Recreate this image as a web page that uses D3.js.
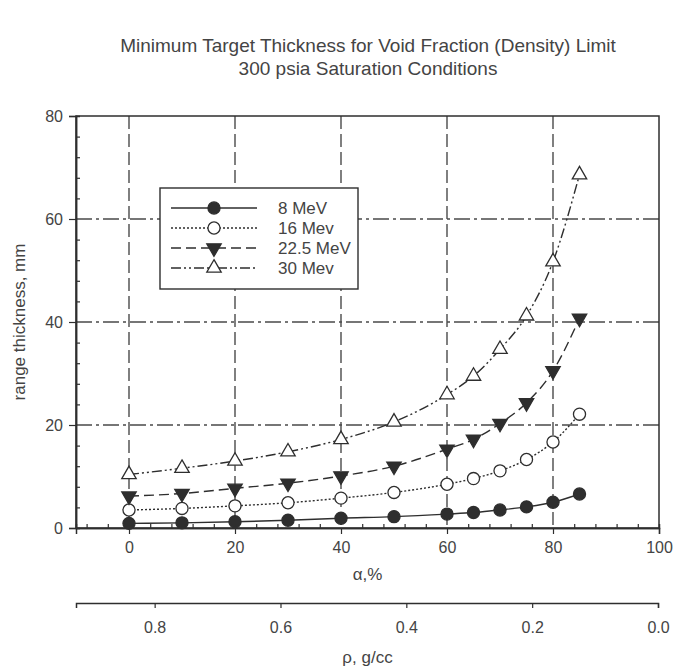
<!DOCTYPE html>
<html>
<head>
<meta charset="UTF-8">
<title>Minimum Target Thickness</title>
<style>
  body { margin: 0; background: #fff; }
  svg { font-family: "Liberation Sans", Arial, sans-serif; }
</style>
</head>
<body>
<svg id="chart"></svg>
<script src="https://cdn.jsdelivr.net/npm/d3@7"></script>
<script>
// void fraction, %
var alpha = [0, 10, 20, 30, 40, 50, 60, 65, 70, 75, 80, 85];
// range thickness, mm
var mev8  = [0.9, 1.0, 1.2, 1.5, 1.9, 2.2, 2.7, 3.0, 3.5, 4.1, 5.0, 6.6];
var mev16 = [3.5, 3.8, 4.3, 4.9, 5.8, 6.9, 8.5, 9.6, 11.1, 13.3, 16.7, 22.1];
var mev22 = [6.2, 6.7, 7.7, 8.7, 10.1, 12.0, 15.3, 17.2, 20.3, 24.3, 30.5, 40.7];
var mev30 = [10.4, 11.6, 13.0, 14.8, 17.2, 20.6, 25.9, 29.5, 34.7, 41.2, 51.7, 68.6];
var seriesNames = ["8 MeV", "16 Mev", "22.5 MeV", "30 Mev"];
var xTicks = [0, 20, 40, 60, 80, 100];
var yTicks = [0, 20, 40, 60, 80];
var rhoTicks = [0.8, 0.6, 0.4, 0.2, 0.0];

var W = 674, H = 671;
var svg = d3.select("#chart").attr("width", W).attr("height", H);

var pLeft = 76, pRight = 659, pTop = 116, pBottom = 528;
var x = d3.scaleLinear().domain([-10, 100]).range([pLeft, pRight]);
var y = d3.scaleLinear().domain([0, 80]).range([pBottom, pTop]);
var rho = d3.scaleLinear().domain([0.925, 0]).range([pLeft, 658]);

var ink = "#2e2e2e";
var txt = "#444";

// title
svg.append("text").attr("x", 368).attr("y", 52).attr("text-anchor", "middle")
  .attr("font-size", 19).attr("fill", txt)
  .text("Minimum Target Thickness for Void Fraction (Density) Limit");
svg.append("text").attr("x", 368).attr("y", 75).attr("text-anchor", "middle")
  .attr("font-size", 19).attr("fill", txt)
  .text("300 psia Saturation Conditions");

// grid
var g = svg.append("g");
g.selectAll(".vg").data([0, 20, 40, 60, 80]).enter().append("line")
  .attr("x1", d => x(d)).attr("x2", d => x(d))
  .attr("y1", pTop).attr("y2", pBottom)
  .attr("stroke", "#4a4a4a").attr("stroke-width", 1.4)
  .attr("stroke-dasharray", "13,5");
g.selectAll(".hg").data([20, 40, 60]).enter().append("line")
  .attr("x1", pLeft).attr("x2", pRight)
  .attr("y1", d => y(d)).attr("y2", d => y(d))
  .attr("stroke", "#4a4a4a").attr("stroke-width", 1.4)
  .attr("stroke-dasharray", "16,4,3,4");

// frame
svg.append("rect").attr("x", pLeft).attr("y", pTop)
  .attr("width", pRight - pLeft).attr("height", pBottom - pTop)
  .attr("fill", "none").attr("stroke", ink).attr("stroke-width", 1.5);

// axes
svg.append("g").attr("transform", "translate(0," + pBottom + ")")
  .call(d3.axisBottom(x).tickValues(xTicks).tickSize(6).tickPadding(8));
var xMinor = d3.range(-8, 100, 4).filter(d => d % 20 !== 0);
svg.append("g").attr("transform", "translate(0," + pBottom + ")")
  .call(d3.axisTop(x).tickValues(xMinor).tickSize(4).tickFormat(""));
svg.append("g").attr("transform", "translate(" + pLeft + ",0)")
  .call(d3.axisLeft(y).tickValues(yTicks).tickSize(7).tickPadding(6));
var yMinor = d3.range(4, 80, 4).filter(d => d % 20 !== 0);
svg.append("g").attr("transform", "translate(" + pLeft + ",0)")
  .call(d3.axisRight(y).tickValues(yMinor).tickSize(4).tickFormat(""));

svg.append("g").attr("transform", "translate(0,603)")
  .call(d3.axisBottom(rho).tickValues(rhoTicks).tickSize(5).tickPadding(14)
    .tickFormat(d3.format(".1f")));

svg.selectAll(".domain").attr("stroke", ink).attr("stroke-width", 1.5);
svg.selectAll(".tick line").attr("stroke", ink).attr("stroke-width", 1.2);
svg.selectAll(".tick text").attr("font-size", 16).attr("fill", txt)
  .attr("font-family", "Liberation Sans, Arial, sans-serif");

svg.append("text").attr("x", x(45)).attr("y", 580).attr("text-anchor", "middle")
  .attr("font-size", 17).attr("fill", txt).text("α,%");
svg.append("text").attr("x", x(45)).attr("y", 663).attr("text-anchor", "middle")
  .attr("font-size", 17).attr("fill", txt).text("ρ, g/cc");
svg.append("text").attr("transform", "translate(25," + y(40) + ") rotate(-90)")
  .attr("text-anchor", "middle").attr("font-size", 17).attr("fill", txt)
  .text("range thickness, mm");

// series
var series = [
  { name: seriesNames[0], values: mev8,  dash: null,           sym: d3.symbolCircle,   fill: ink,    size: 115 },
  { name: seriesNames[1], values: mev16, dash: "2,2",          sym: d3.symbolCircle,   fill: "#fff", size: 115 },
  { name: seriesNames[2], values: mev22, dash: "10,5",         sym: d3.symbolTriangle, fill: ink,    size: 90, rot: 180 },
  { name: seriesNames[3], values: mev30, dash: "10,3,2,3,2,3", sym: d3.symbolTriangle, fill: "#fff", size: 90 }
];

var line = d3.line().x(d => x(d[0])).y(d => y(d[1])).curve(d3.curveMonotoneX);

series.forEach(function(s) {
  var pts = alpha.map((a, i) => [a, s.values[i]]);
  svg.append("path").datum(pts).attr("d", line)
    .attr("fill", "none").attr("stroke", ink).attr("stroke-width", 1.4)
    .attr("stroke-dasharray", s.dash);
  svg.selectAll(null).data(pts).enter().append("path")
    .attr("d", d3.symbol().type(s.sym).size(s.size))
    .attr("transform", d => "translate(" + x(d[0]) + "," + y(d[1]) + ")" + (s.rot ? " rotate(" + s.rot + ")" : ""))
    .attr("fill", s.fill).attr("stroke", ink).attr("stroke-width", 1.3);
});

// legend
var lg = svg.append("g");
lg.append("rect").attr("x", 160).attr("y", 188).attr("width", 198).attr("height", 101)
  .attr("fill", "#fff").attr("stroke", ink).attr("stroke-width", 1.4);
series.forEach(function(s, i) {
  var ly = 208 + i * 20;
  lg.append("line").attr("x1", 171).attr("x2", 257).attr("y1", ly).attr("y2", ly)
    .attr("stroke", ink).attr("stroke-width", 1.3).attr("stroke-dasharray", s.dash);
  lg.append("path").attr("d", d3.symbol().type(s.sym).size(s.size))
    .attr("transform", "translate(214," + ly + ")" + (s.rot ? " rotate(" + s.rot + ")" : ""))
    .attr("fill", s.fill).attr("stroke", ink).attr("stroke-width", 1.3);
  lg.append("text").attr("x", 278).attr("y", ly + 6).attr("font-size", 17)
    .attr("fill", txt).text(s.name);
});
</script>
</body>
</html>
